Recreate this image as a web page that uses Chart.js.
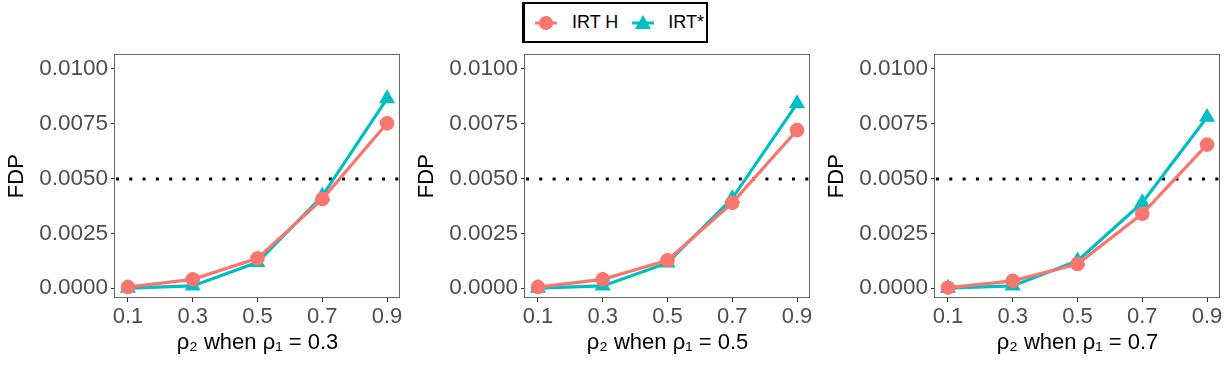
<!DOCTYPE html>
<html>
<head>
<meta charset="utf-8">
<script src="https://cdn.jsdelivr.net/npm/chart.js@4/dist/chart.umd.min.js"></script>
<style>
  html, body { margin: 0; padding: 0; background: #fff; }
  body { width: 1229px; height: 369px; position: relative; overflow: hidden; font-family: "Liberation Sans", Arial, sans-serif; }
  .panel { position: absolute; top: 45px; width: 410px; height: 324px; }
  #legend { position: absolute; left: 522px; top: 2px; width: 181px; height: 37px; border: 2.5px solid #000; border-left-width: 3px; box-sizing: content-box; display: flex; align-items: center; font-size: 18px; color: #000; }
  #legend .item { display: flex; align-items: center; }
  #legend svg { display: block; }
</style>
</head>
<body>
<div id="legend">
  <div class="item" style="margin-left:9px"><svg width="24" height="20"><line x1="1" y1="10" x2="23" y2="10" stroke="#F8766D" stroke-width="3"/><circle cx="12" cy="10" r="7" fill="#F8766D"/></svg><span style="margin-left:14px">IRT H</span></div>
  <div class="item" style="margin-left:13px"><svg width="24" height="20"><line x1="1" y1="10" x2="23" y2="10" stroke="#00BFC4" stroke-width="3"/><polygon points="12,2 20,16 4,16" fill="#00BFC4"/></svg><span style="margin-left:13px">IRT*</span></div>
</div>
<div class="panel" style="left:0px"><canvas id="c1" width="410" height="324"></canvas></div>
<div class="panel" style="left:410px"><canvas id="c2" width="410" height="324"></canvas></div>
<div class="panel" style="left:820px"><canvas id="c3" width="410" height="324"></canvas></div>
<script>
// ---- data ----
const rho2 = [0.1, 0.3, 0.5, 0.7, 0.9];
const rho1Labels = ['0.3', '0.5', '0.7'];
const seriesNames = ['IRT H', 'IRT*'];
const irtH_rho1_03 = [0.00005, 0.00040, 0.00136, 0.00406, 0.00752];
const irtS_rho1_03 = [0.00000, 0.00010, 0.00118, 0.00420, 0.00865];
const irtH_rho1_05 = [0.00005, 0.00040, 0.00127, 0.00389, 0.00721];
const irtS_rho1_05 = [0.00000, 0.00010, 0.00115, 0.00410, 0.00842];
const irtH_rho1_07 = [0.00002, 0.00033, 0.00110, 0.00339, 0.00655];
const irtS_rho1_07 = [0.00000, 0.00010, 0.00125, 0.00390, 0.00780];
const yTicks = [0, 0.0025, 0.005, 0.0075, 0.01];
const threshold = 0.005;

const colH = '#F8766D', colS = '#00BFC4';
const tickColor = '#4D4D4D';

const frameAndLine = {
  id: 'frameAndLine',
  beforeDatasetsDraw(chart) {
    const {ctx, chartArea: a, scales: {y}} = chart;
    const py = Math.round(y.getPixelForValue(threshold));
    ctx.save();
    ctx.strokeStyle = '#000';
    ctx.lineWidth = 3;
    ctx.setLineDash([3, 10.3]);
    ctx.beginPath();
    ctx.moveTo(a.left + 1, py);
    ctx.lineTo(a.right, py);
    ctx.stroke();
    ctx.restore();
  },
  afterDraw(chart) {
    const {ctx, chartArea: a} = chart;
    ctx.save();
    ctx.strokeStyle = '#666';
    ctx.lineWidth = 1;
    ctx.strokeRect(Math.round(a.left) - 0.5, Math.round(a.top) + 0.5, Math.round(a.right - a.left), Math.round(a.bottom - a.top) - 1);
    ctx.restore();
  }
};

function zeroPad(s) { s.paddingTop = 0; s.paddingBottom = 0; s.paddingLeft = 0; s.paddingRight = 0; }

function makeChart(id, hVals, sVals, rho1) {
  const toPts = vals => rho2.map((x, i) => ({x, y: vals[i]}));
  new Chart(document.getElementById(id), {
    type: 'line',
    data: {
      datasets: [
        { label: seriesNames[0], data: toPts(hVals), borderColor: colH, backgroundColor: colH,
          borderWidth: 3.2, pointStyle: 'circle', pointRadius: 7.3, pointBorderWidth: 0, pointHoverRadius: 7.3, tension: 0 },
        { label: seriesNames[1], data: toPts(sVals), borderColor: colS, backgroundColor: colS,
          borderWidth: 3.2, pointStyle: 'triangle', pointRadius: 9.3, pointBorderWidth: 0, pointHoverRadius: 9.3, tension: 0 }
      ]
    },
    options: {
      responsive: false,
      animation: false,
      events: [],
      layout: { padding: { top: 1, right: 10, left: 0, bottom: 0 } },
      plugins: { legend: { display: false }, tooltip: { enabled: false } },
      scales: {
        x: {
          type: 'linear', min: 0.06, max: 0.94,
          afterBuildTicks: s => { s.ticks = rho2.map(v => ({value: v})); },
          afterFit: s => { s.height = 71; zeroPad(s); },
          grid: { display: true, drawOnChartArea: false, drawTicks: true, tickLength: 4, color: '#333' },
          border: { display: false },
          ticks: { color: tickColor, font: { family: 'Liberation Sans', size: 22 }, padding: 2,
                   maxRotation: 0, autoSkip: false, callback: v => v.toFixed(1) },
          title: { display: true, text: 'ρ₂ when ρ₁ = ' + rho1, color: '#000',
                   font: { family: 'Liberation Sans', size: 22 }, padding: { top: 0, bottom: 13 } }
        },
        y: {
          type: 'linear', min: -0.00045, max: 0.01067,
          afterBuildTicks: s => { s.ticks = yTicks.map(v => ({value: v})); },
          afterFit: s => { s.width = 115; zeroPad(s); },
          grid: { display: true, drawOnChartArea: false, drawTicks: true, tickLength: 4, color: '#333' },
          border: { display: false },
          ticks: { color: tickColor, font: { family: 'Liberation Sans', size: 22.5 }, padding: 3,
                   autoSkip: false, callback: v => v.toFixed(4) },
          title: { display: true, text: 'FDP', color: '#000',
                   font: { family: 'Liberation Sans', size: 22 }, padding: { top: 4, bottom: 0 } }
        }
      }
    },
    plugins: [frameAndLine]
  });
}

makeChart('c1', irtH_rho1_03, irtS_rho1_03, rho1Labels[0]);
makeChart('c2', irtH_rho1_05, irtS_rho1_05, rho1Labels[1]);
makeChart('c3', irtH_rho1_07, irtS_rho1_07, rho1Labels[2]);
</script>
</body>
</html>
